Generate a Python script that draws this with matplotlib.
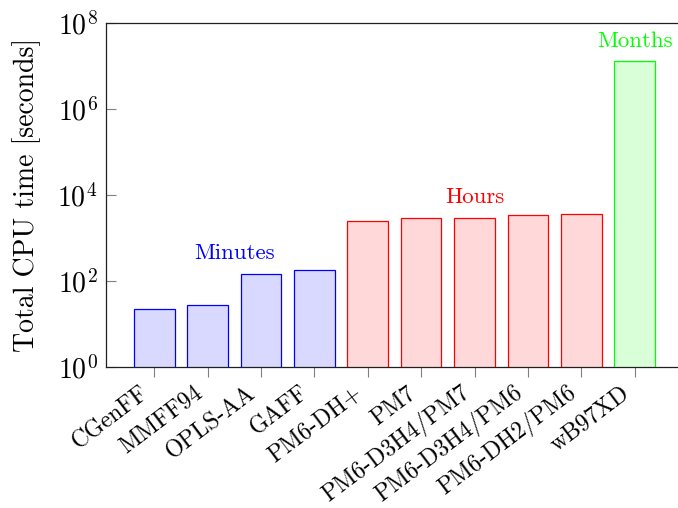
import matplotlib
matplotlib.use("Agg")
import matplotlib.pyplot as plt
import matplotlib.transforms as mtransforms
import numpy as np
from matplotlib.ticker import LogFormatterMathtext, FixedLocator, NullLocator

plt.rcParams['font.family'] = 'serif'
plt.rcParams['font.serif'] = ['cmr10']
plt.rcParams['mathtext.fontset'] = 'cm'
plt.rcParams['axes.formatter.use_mathtext'] = True
plt.rcParams['axes.unicode_minus'] = False

# data (seconds)
methods = ['CGenFF', 'MMFF94', 'OPLS-AA', 'GAFF', 'PM6-DH+', 'PM7',
           'PM6-D3H4/PM7', 'PM6-D3H4/PM6', 'PM6-DH2/PM6', 'wB97XD']
cpu_time = [22, 28, 147, 180, 2490, 2860, 2970, 3430, 3550, 1.29e7]
group = ['min', 'min', 'min', 'min', 'hr', 'hr', 'hr', 'hr', 'hr', 'mon']

group_edge = {'min': '#0000ff', 'hr': '#ff0000', 'mon': '#00ff00'}
group_fill = {'min': '#d9d9ff', 'hr': '#ffd9d9', 'mon': '#d9ffd9'}

# group labels: (text, x position, y position, group)
group_labels = [('Minutes', 1.5, 330, 'min'),
                ('Hours', 6, 6600, 'hr'),
                ('Months', 9, 2.75e7, 'mon')]

fig = plt.figure(figsize=(6.78, 5.08), dpi=100)
ax = fig.add_axes([0.1563, 0.2782, 0.851, 0.6759])
ax.set_yscale('log')

x = np.arange(len(methods))
ax.bar(x, cpu_time, width=0.76,
       color=[group_fill[g] for g in group],
       edgecolor=[group_edge[g] for g in group], linewidth=0.9, zorder=2)

for txt, gx, gy, g in group_labels:
    ax.text(gx, gy, txt, color=group_edge[g], ha='center', va='baseline', fontsize=16.5)

ax.set_xlim(-0.905, 9.905)
ax.set_ylim(1, 1e8)
ax.yaxis.set_major_locator(FixedLocator([1, 1e2, 1e4, 1e6, 1e8]))
ax.yaxis.set_minor_locator(NullLocator())
ax.yaxis.set_major_formatter(LogFormatterMathtext())

ax.set_xticks(x)
ax.set_xticklabels(methods, rotation=37, ha='right', va='center', rotation_mode='anchor')
ax.tick_params(axis='x', direction='out', length=7.5, width=0.8, color='#808080',
               labelsize=17, pad=9)
ax.tick_params(axis='y', direction='in', length=7.5, width=0.8, color='#808080',
               labelsize=20, pad=6)

# nudge the rotated labels a little left, as in the reference
shift = mtransforms.ScaledTranslation(-8 / 100, -1 / 100, fig.dpi_scale_trans)
for lab in ax.get_xticklabels():
    lab.set_transform(lab.get_transform() + shift)

for s in ['left', 'bottom', 'top']:
    ax.spines[s].set_linewidth(0.9)
    ax.spines[s].set_color('#202020')
ax.spines['right'].set_visible(False)

ax.set_ylabel('Total CPU time [seconds]', fontsize=20, labelpad=12)

plt.savefig('out.png', dpi=100)
